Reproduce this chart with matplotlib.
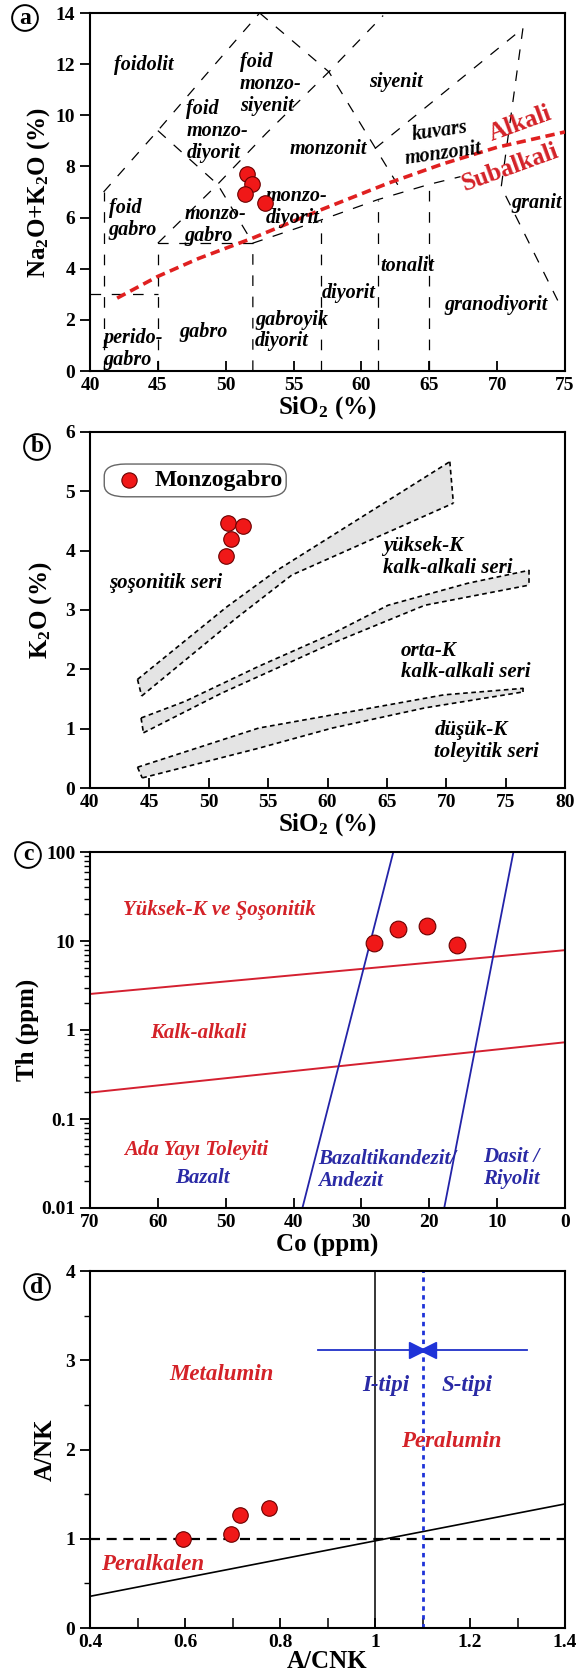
import matplotlib
matplotlib.use('Agg')
import matplotlib.pyplot as plt
from matplotlib.patches import FancyBboxPatch, Polygon
from matplotlib.lines import Line2D
from matplotlib.ticker import FixedLocator, FixedFormatter, MultipleLocator, NullFormatter, LogLocator

plt.rcParams['font.family'] = ['Liberation Serif', 'DejaVu Serif']
plt.rcParams['font.weight'] = 'bold'
plt.rcParams['mathtext.fontset'] = 'custom'
plt.rcParams['mathtext.rm'] = 'Liberation Serif:bold'
plt.rcParams['mathtext.bf'] = 'Liberation Serif:bold'
plt.rcParams['mathtext.it'] = 'Liberation Serif:bold:italic'

# ---------------- data ----------------
# (a) TAS (Middlemost 1994)
tas_sio2 = [51.6, 52.9, 51.9, 51.45]
tas_alk = [7.72, 6.56, 7.33, 6.93]
# field boundaries (dashed black)
tas_bounds = [
    ([41, 41], [0, 7]),
    ([41, 45, 48.4, 52.5], [7, 9.4, 11.5, 14]),
    ([45, 49.4, 52], [9.4, 7.3, 5]),
    ([45, 49.4, 53, 57.6, 61.6], [5, 7.3, 9.3, 11.7, 13.9]),
    ([52.5, 57.6, 63], [14, 11.7, 7]),
    ([61, 71.9], [8.7, 13.4]),
    ([71.9, 70.3, 74.8], [13.4, 7.2, 2.4]),
    ([40, 45], [3, 3]),
    ([45, 45, 52], [0, 5, 5]),
    ([52, 52, 57, 61.2, 65, 67.3], [0, 5, 5.9, 6.7, 7.3, 7.6]),
    ([57, 57], [0, 5.9]),
    ([61.2, 61.2], [0, 6.7]),
    ([65, 65], [0, 7.3]),
]
# Irvine & Baragar alkaline / subalkaline divide
alk_line_sio2 = [42, 45, 48, 52, 57, 62, 66, 70, 75]
alk_line_val = [2.85, 3.7, 4.4, 5.2, 6.3, 7.35, 8.1, 8.75, 9.35]

# (b) SiO2 - K2O
k2o_sio2 = [51.6, 52.9, 51.85, 51.45]
k2o_val = [4.47, 4.42, 4.19, 3.91]
band1_top_x = [44.0, 51.5, 55.6, 70.3]
band1_top_y = [1.83, 3.05, 3.65, 5.5]
band1_bot_x = [44.35, 52.3, 57.0, 70.6]
band1_bot_y = [1.55, 2.86, 3.59, 4.8]
band2_top_x = [44.3, 48.0, 54.2, 60.4, 65.1, 71.8, 77.0]
band2_top_y = [1.18, 1.46, 2.05, 2.6, 3.08, 3.45, 3.67]
band2_bot_x = [44.5, 51.1, 60.4, 68.2, 77.0]
band2_bot_y = [0.93, 1.6, 2.44, 3.08, 3.42]
band3_top_x = [44.0, 54.2, 65.1, 69.8, 76.5]
band3_top_y = [0.35, 1.01, 1.40, 1.57, 1.68]
band3_bot_x = [44.4, 54.2, 60.4, 68.2, 76.5]
band3_bot_y = [0.17, 0.67, 1.01, 1.35, 1.62]

# (c) Co - Th
co_ppm = [28.1, 24.6, 20.3, 15.9]
th_ppm = [9.6, 13.6, 14.8, 9.0]
red_upper_co = [70, 0]
red_upper_th = [2.54, 7.89]
red_lower_co = [70, 0]
red_lower_th = [0.198, 0.728]
blue_left_co = [38.7, 25.3]
blue_right_co = [17.8, 7.6]
blue_th = [0.01, 100]

# (d) A/CNK - A/NK
a_cnk = [0.595, 0.697, 0.716, 0.777]
a_nk = [0.996, 1.056, 1.265, 1.347]
diag_x = [0.4, 1.4]
diag_y = [0.355, 1.39]
it_st_x = [0.88, 1.32]
it_st_y = [3.12, 3.12]

# ---------------- styling ----------------
RED = '#f01818'
EDGE = '#6a0000'
TXT_RED = '#d42228'
TXT_BLUE = '#2a2aa5'
W, H = 579, 1676

fig = plt.figure(figsize=(W / 100, H / 100), dpi=100)


def add_ax(top, bottom, left=90, right=565):
    return fig.add_axes([left / W, 1 - bottom / H, (right - left) / W, (bottom - top) / H])


def style(ax):
    for s in ax.spines.values():
        s.set_linewidth(1.5)
    ax.tick_params(axis='x', which='major', direction='in', length=7.5, width=1.3,
                   labelsize=14, pad=4, top=False)
    ax.tick_params(axis='y', which='major', direction='out', length=7.5, width=1.3,
                   labelsize=14, pad=3, right=False)
    ax.tick_params(axis='x', which='minor', direction='in', length=7, width=1.1, top=False)
    ax.tick_params(axis='y', which='minor', direction='out', length=4.5, width=1.0, right=False)


def labels(ax, xlabel, ylabel, ylab_x, h_px, xoff=37):
    ax.text(0.5, -xoff / h_px, xlabel, transform=ax.transAxes, ha='center', va='center',
            fontsize=18, fontweight='bold')
    ax.text(ylab_x, 0.5, ylabel, transform=ax.transAxes, ha='center', va='center',
            rotation=90, fontsize=18, fontweight='bold')


def panel_letter(letter, xpx, ypx):
    fig.text(xpx / W, 1 - ypx / H, letter, ha='center', va='center', fontsize=17,
             fontweight='bold',
             bbox=dict(boxstyle='circle,pad=0.1', fc='white', ec='black', lw=1.4))


# ================= (a) =================
axa = add_ax(13, 371)
style(axa)
for xs, ys in tas_bounds:
    axa.plot(xs, ys, color='black', lw=0.9, dashes=(8.5, 8.5))
axa.plot(alk_line_sio2, alk_line_val, color='#e02020', lw=2.6, dashes=(2.6, 1.5), zorder=3)
axa.scatter(tas_sio2, tas_alk, s=125, c=RED, edgecolors=EDGE, linewidths=0.8, zorder=5)
axa.set_xlim(40, 75)
axa.set_ylim(0, 14)
axa.xaxis.set_major_locator(MultipleLocator(5))
axa.yaxis.set_major_locator(MultipleLocator(2))

tas_text = [
    ('foidolit', 43.96, 11.95, 'center', 0),
    ('foid\nmonzo-\nsiyenit', 51.06, 11.22, 'left', 0),
    ('foid\nmonzo-\ndiyorit', 47.1, 9.39, 'left', 0),
    ('siyenit', 62.52, 11.29, 'center', 0),
    ('monzonit', 57.6, 8.67, 'center', 0),
    ('kuvars\nmonzonit', 65.9, 8.94, 'center', 8),
    ('monzo-\ndiyorit', 52.97, 6.42, 'left', 0),
    ('foid\ngabro', 41.37, 5.93, 'left', 0),
    ('monzo-\ngabro', 46.96, 5.7, 'left', 0),
    ('granit', 72.9, 6.58, 'center', 0),
    ('tonalit', 63.4, 4.1, 'center', 0),
    ('diyorit', 59.03, 3.05, 'center', 0),
    ('granodiyorit', 69.95, 2.59, 'center', 0),
    ('gabroyik\ndiyorit', 52.15, 1.58, 'left', 0),
    ('gabro', 48.38, 1.54, 'center', 0),
    ('perido-\ngabro', 40.96, 0.86, 'left', 0),
]
for t, x, y, ha, rot in tas_text:
    axa.text(x, y, t, ha=ha, va='center', fontsize=14.5, fontweight='bold', style='italic',
             rotation=rot, linespacing=1.12, zorder=4)
axa.text(71.72, 9.66, 'Alkali', color=TXT_RED, fontsize=18, fontweight='bold',
         rotation=20, ha='center', va='center')
axa.text(70.99, 7.96, 'Subalkali', color=TXT_RED, fontsize=18, fontweight='bold',
         rotation=20, ha='center', va='center')
labels(axa, r'SiO$_{\mathbf{2}}$ (%)', r'Na$_{\mathbf{2}}$O+K$_{\mathbf{2}}$O (%)', -0.109, 358)
panel_letter('a', 25, 18)

# ================= (b) =================
axb = add_ax(432, 788)
style(axb)
bands = [
    (band1_top_x, band1_top_y, band1_bot_x, band1_bot_y),
    (band2_top_x, band2_top_y, band2_bot_x, band2_bot_y),
    (band3_top_x, band3_top_y, band3_bot_x, band3_bot_y),
]
for tx, ty, bx, by in bands:
    poly_x = list(tx) + list(bx[::-1])
    poly_y = list(ty) + list(by[::-1])
    axb.add_patch(Polygon(list(zip(poly_x, poly_y)), closed=True, fc='#e4e4e4', ec='none', zorder=1))
    dash = dict(color='black', lw=1.2, dashes=(2.8, 2.1), zorder=2)
    axb.plot(tx, ty, **dash)
    axb.plot(bx, by, **dash)
    axb.plot([tx[0], bx[0]], [ty[0], by[0]], **dash)
    axb.plot([tx[-1], bx[-1]], [ty[-1], by[-1]], **dash)
axb.scatter(k2o_sio2, k2o_val, s=125, c=RED, edgecolors=EDGE, linewidths=0.8, zorder=5)
axb.set_xlim(40, 80)
axb.set_ylim(0, 6)
axb.xaxis.set_major_locator(MultipleLocator(5))
axb.yaxis.set_major_locator(MultipleLocator(1))
k_text = [
    ('şoşonitik seri', 46.4, 3.45, 'center'),
    ('yüksek-K\nkalk-alkali seri', 64.65, 3.89, 'left'),
    ('orta-K\nkalk-alkali seri', 66.2, 2.13, 'left'),
    ('düşük-K\ntoleyitik seri', 69.0, 0.79, 'left'),
]
for t, x, y, ha in k_text:
    axb.text(x, y, t, ha=ha, va='center', fontsize=15, fontweight='bold', style='italic',
             linespacing=1.1, zorder=4)
# legend box
axb.add_patch(FancyBboxPatch((0.03, 0.818), 0.383, 0.092, boxstyle='round,pad=0,rounding_size=0.045',
                             transform=axb.transAxes, fc='white', ec='#666666', lw=1.0,
                             mutation_aspect=356 / 475, zorder=6))
axb.add_line(Line2D([0.0825], [0.864], transform=axb.transAxes, marker='o', ms=11,
                    mfc=RED, mec=EDGE, mew=0.8, ls='none', zorder=7))
axb.text(0.135, 0.864, 'Monzogabro', transform=axb.transAxes, ha='left', va='center',
         fontsize=17, fontweight='bold', zorder=7)
labels(axb, r'SiO$_{\mathbf{2}}$ (%)', r'K$_{\mathbf{2}}$O (%)', -0.105, 356)
panel_letter('b', 37, 447)

# ================= (c) =================
axc = add_ax(852, 1208)
style(axc)
axc.set_yscale('log')
axc.set_xlim(70, 0)
axc.set_ylim(0.01, 100)
axc.plot(red_upper_co, red_upper_th, color='#d42030', lw=1.4)
axc.plot(red_lower_co, red_lower_th, color='#d42030', lw=1.4)
axc.plot(blue_left_co, blue_th, color='#2323a8', lw=1.3)
axc.plot(blue_right_co, blue_th, color='#2323a8', lw=1.3)
axc.scatter(co_ppm, th_ppm, s=145, c=RED, edgecolors=EDGE, linewidths=0.8, zorder=5)
axc.xaxis.set_major_locator(MultipleLocator(10))
axc.yaxis.set_major_locator(FixedLocator([0.01, 0.1, 1, 10, 100]))
axc.yaxis.set_major_formatter(FixedFormatter(['0.01', '0.1', '1', '10', '100']))
axc.yaxis.set_minor_locator(LogLocator(base=10, subs=range(2, 10)))
axc.yaxis.set_minor_formatter(NullFormatter())
c_text = [
    ('Yüksek-K ve Şoşonitik', 50.9, 22.2, 'center', TXT_RED),
    ('Kalk-alkali', 54.05, 0.918, 'center', TXT_RED),
    ('Ada Yayı Toleyiti', 54.4, 0.045, 'center', TXT_RED),
    ('Bazalt', 53.45, 0.0217, 'center', TXT_BLUE),
    ('Bazaltikandezit/\nAndezit', 36.41, 0.0269, 'left', TXT_BLUE),
    ('Dasit /\nRiyolit', 12.1, 0.0279, 'left', TXT_BLUE),
]
for t, x, y, ha, col in c_text:
    axc.text(x, y, t, ha=ha, va='center', fontsize=15, fontweight='bold', style='italic',
             color=col, linespacing=1.15)
labels(axc, 'Co (ppm)', 'Th (ppm)', -0.133, 356)
panel_letter('c', 28, 855)

# ================= (d) =================
axd = add_ax(1271, 1628)
style(axd)
axd.set_xlim(0.4, 1.4)
axd.set_ylim(0, 4)
axd.axhline(1, color='black', lw=1.6, dashes=(4.5, 3))
axd.axvline(1, color='black', lw=1.1)
axd.plot(diag_x, diag_y, color='black', lw=1.2)
axd.axvline(1.1, color='#1f33d8', lw=2.0, dashes=(1.6, 1.6))
axd.plot(it_st_x, it_st_y, color='#2030c8', lw=1.3)
axd.plot([1.0875], [3.12], marker='>', ms=11, color='#1f33d8', ls='none')
axd.plot([1.1125], [3.12], marker='<', ms=11, color='#1f33d8', ls='none')
axd.scatter(a_cnk, a_nk, s=125, c=RED, edgecolors=EDGE, linewidths=0.8, zorder=5)
axd.xaxis.set_major_locator(FixedLocator([0.4, 0.6, 0.8, 1.0, 1.2, 1.4]))
axd.xaxis.set_major_formatter(FixedFormatter(['0.4', '0.6', '0.8', '1', '1.2', '1.4']))
axd.xaxis.set_minor_locator(MultipleLocator(0.1))
axd.yaxis.set_major_locator(MultipleLocator(1))
axd.yaxis.set_minor_locator(MultipleLocator(0.5))
d_text = [
    ('Metalumin', 0.676, 2.836, TXT_RED),
    ('I-tipi', 1.0226, 2.716, TXT_BLUE),
    ('S-tipi', 1.194, 2.716, TXT_BLUE),
    ('Peralumin', 1.160, 2.09, TXT_RED),
    ('Peralkalen', 0.532, 0.709, TXT_RED),
]
for t, x, y, col in d_text:
    axd.text(x, y, t, ha='center', va='center', fontsize=16.5, fontweight='bold', style='italic',
             color=col)
labels(axd, 'A/CNK', 'A/NK', -0.095, 357, xoff=33)
panel_letter('d', 37, 1287)

fig.savefig('out.png', dpi=100)
